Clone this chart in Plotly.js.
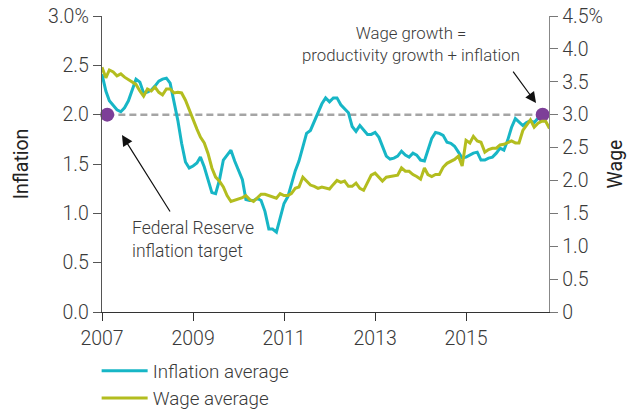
<!DOCTYPE html>
<html>
<head>
<meta charset="utf-8">
<script src="https://cdn.plot.ly/plotly-3.0.1.min.js"></script>
<style>html,body{margin:0;padding:0;background:#fff;}#chart{width:627px;height:412px;}</style>
</head>
<body>
<div id="chart"></div>
<script>
// Monthly series, Jan 2007 onward
const startYear = 2007;
const inflationAverage = [2.41,2.24,2.14,2.09,2.05,2.03,2.07,2.14,2.26,2.36,2.33,2.22,
  2.23,2.25,2.29,2.34,2.36,2.37,2.32,2.14,1.94,1.71,1.52,1.46,
  1.48,1.51,1.57,1.47,1.34,1.21,1.20,1.34,1.54,1.59,1.64,1.53,
  1.43,1.34,1.14,1.13,1.13,1.15,1.13,1.02,0.84,0.84,0.81,0.96,
  1.10,1.17,1.30,1.43,1.53,1.66,1.81,1.84,1.93,2.01,2.11,2.17,
  2.13,2.17,2.17,2.10,2.06,2.02,1.88,1.83,1.89,1.85,1.80,1.80,
  1.82,1.77,1.67,1.58,1.55,1.56,1.58,1.63,1.59,1.57,1.61,1.59,
  1.54,1.53,1.64,1.76,1.82,1.81,1.79,1.72,1.71,1.68,1.62,1.56,
  1.57,1.59,1.61,1.62,1.54,1.54,1.56,1.57,1.61,1.66,1.64,1.74,
  1.87,1.96,1.93,1.89,1.92,1.94,1.92,1.97,2.01];
const wageAverage = [3.72,3.56,3.68,3.65,3.59,3.62,3.57,3.53,3.49,3.46,3.36,3.28,
  3.39,3.36,3.42,3.34,3.30,3.39,3.39,3.33,3.34,3.33,3.22,3.07,
  2.93,2.78,2.66,2.57,2.41,2.19,2.05,1.99,1.90,1.77,1.68,1.70,
  1.71,1.74,1.77,1.71,1.68,1.74,1.79,1.79,1.77,1.74,1.73,1.80,
  1.77,1.77,1.80,1.88,1.90,2.05,1.99,1.93,1.91,1.88,1.90,1.88,
  1.87,1.94,2.00,1.97,1.99,1.91,1.91,1.96,1.88,1.85,1.96,2.08,
  2.11,2.05,1.99,2.05,2.06,2.06,2.08,2.19,2.14,2.14,2.09,2.06,
  2.02,2.19,2.09,2.06,2.09,2.09,2.20,2.26,2.29,2.32,2.37,2.22,
  2.61,2.57,2.67,2.60,2.58,2.43,2.47,2.49,2.49,2.54,2.55,2.58,
  2.60,2.57,2.57,2.76,2.84,2.92,2.81,2.87,2.90,2.90,2.79];
const targetDates = ['2007-02-12','2016-09-07'];
const targetInflation = [2.0, 2.0];
const xTickVals = ['2007-01-01','2009-01-01','2011-01-01','2013-01-01','2015-01-01'];
const xTickText = ['2007','2009','2011','2013','2015'];
const leftTickVals = [0,0.5,1,1.5,2,2.5,3];
const leftTickText = ['0.0','0.5','1.0','1.5','2.0','2.5','3.0%'];
const rightTickVals = [0,0.5,1,1.5,2,2.5,3,3.5,4,4.5];
const rightTickText = ['0','0.5','1.0','1.5','2.0','2.5','3.0','3.5','4.0','4.5%'];

function monthDates(n){
  const out=[];
  for(let i=0;i<n;i++){
    const y=startYear+Math.floor(i/12), m=(i%12)+1;
    out.push(y+'-'+(m<10?'0':'')+m+'-01');
  }
  return out;
}

const FONT = 'Roboto, "Liberation Sans", Arial, sans-serif';
const TXT = '#3a3a3a';
const TICKSIZE = 19.5;
const W = 300;

const traces = [
  {x: monthDates(inflationAverage.length), y: inflationAverage, type:'scatter', mode:'lines',
   name:'Inflation average', line:{color:'#17b6c6', width:3}, yaxis:'y'},
  {x: monthDates(wageAverage.length), y: wageAverage, type:'scatter', mode:'lines',
   name:'Wage average', line:{color:'#b3bd1f', width:3}, yaxis:'y2'},
  {x: targetDates, y: targetInflation, type:'scatter', mode:'markers', showlegend:false,
   marker:{color:'#7d3f98', size:14}, yaxis:'y', cliponaxis:false}
];

const layout = {
  width:627, height:412,
  margin:{l:102, r:78, t:16, b:100, autoexpand:false},
  paper_bgcolor:'#fff', plot_bgcolor:'#fff',
  font:{family:FONT, size:17, color:TXT, weight:W},
  showlegend:true,
  legend:{x:-0.012, y:-0.135, xanchor:'left', yanchor:'top', orientation:'v',
          font:{size:18.8, color:TXT, weight:W}, tracegroupgap:0, itemwidth:46},
  xaxis:{type:'date', range:['2007-01-01','2016-10-28'], tickvals:xTickVals, ticktext:xTickText,
         showgrid:false, zeroline:false, showline:true, linecolor:'#333', linewidth:1.3,
         ticks:'outside', ticklen:8, tickcolor:'#333', tickfont:{size:TICKSIZE, color:TXT, weight:W}},
  yaxis:{range:[0,3], tickvals:leftTickVals, ticktext:leftTickText, showgrid:false, zeroline:false,
         showline:true, linecolor:'#555', linewidth:1.3, ticks:'outside', ticklen:8, tickcolor:'#555',
         tickfont:{size:TICKSIZE, color:TXT, weight:W},
         title:{text:'Inflation', font:{size:19.5, color:'#222', weight:400}, standoff:14}},
  yaxis2:{range:[0,4.5], overlaying:'y', side:'right', tickvals:rightTickVals, ticktext:rightTickText,
         showgrid:false, zeroline:false, showline:true, linecolor:'#888', linewidth:1.3,
         ticks:'outside', ticklen:8, tickcolor:'#777', tickfont:{size:TICKSIZE, color:TXT, weight:W},
         title:{text:'Wage', font:{size:19.5, color:'#222', weight:400}, standoff:10}},
  shapes:[{type:'line', xref:'paper', x0:0.012, x1:1, yref:'y', y0:2, y1:2,
           line:{color:'#a5a5a5', width:2.5, dash:'7px,4px'}, layer:'below'}],
  annotations:[
    {xref:'paper', yref:'paper', x:0.0626, y:0.244, xanchor:'left', yanchor:'middle', align:'left',
     text:'Federal Reserve<br>inflation target', showarrow:false, font:{size:17.5, color:TXT, weight:W}},
    {xref:'paper', yref:'paper', x:0.691, y:0.904, xanchor:'center', yanchor:'middle', align:'center',
     text:'Wage growth =<br>productivity growth + inflation', showarrow:false, font:{size:16.8, color:TXT, weight:W}},
    {xref:'paper', yref:'paper', x:0.0447, y:0.598, text:'', showarrow:true, ax:49, ay:78,
     arrowhead:2, arrowsize:1.8, arrowwidth:1.2, arrowcolor:'#111', standoff:0, startstandoff:0},
    {xref:'paper', yref:'paper', x:0.971, y:0.706, text:'', showarrow:true, ax:-24, ay:-33,
     arrowhead:2, arrowsize:1.8, arrowwidth:1.2, arrowcolor:'#111', standoff:0, startstandoff:0}
  ]
};

Plotly.newPlot('chart', traces, layout, {displayModeBar:false, staticPlot:true});
</script>
</body>
</html>
